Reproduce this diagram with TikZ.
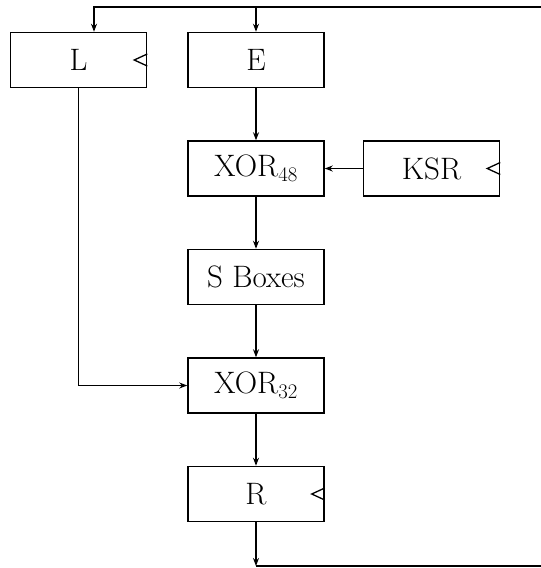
\documentclass[tikz,border=0pt]{standalone}
\usepackage{tikz}
\usetikzlibrary{positioning, calc}
\usetikzlibrary{arrows.meta}
\tikzstyle{box} =
[
	draw,rectangle,line width=1.5pt,inner sep=2mm,
	minimum width=136pt, minimum height=55pt,
	font=\fontsize{31}{36}\selectfont
]
% clock mark on the right side of a register
\newcommand{\clockmark}[1]{%
	\draw[-,line width=1.3pt] ($(#1.east)+(0,-6)$) -- ++(-13,6) -- ++(13,6);}

\begin{document}
\begin{tikzpicture}[->,>={Stealth[length=8pt,width=6pt]},x=1pt,y=-1pt,line width=1.5pt,node distance=52pt]
\useasboundingbox (0,0) rectangle (541,568);

\node[box] (E) at (256,60) {E};
\node[box] (L) [left=40pt of E] {L};
\node[box] (X48) [below=of E] {XOR$_{48}$};
\node[box] (KSR) [right=38pt of X48] {KSR};
\node[box] (S) [below=of X48] {S Boxes};
\node[box] (X32) [below=of S] {XOR$_{32}$};
\node[box] (R) [below=of X32] {R};

\clockmark{L}
\clockmark{KSR}
\clockmark{R}

\coordinate (topR) at (541,7);
\coordinate (topL) at (94,7);
\coordinate (topE) at (E.north |- topR);
\coordinate (botL) at (R.south |- 0,566);
\coordinate (botR) at (541,566);

\path
	(E) edge (X48)
	(KSR) edge (X48)
	(X48) edge (S)
	(S) edge (X32)
	(X32) edge (R);

\draw (L.south) |- (X32.west);
\draw (R.south) -- (botL);
\draw[-] (botL) -- (botR);
\draw (topR) -- (topL) -- (topL |- L.north);
\draw (topE) -- (E.north);

\end{tikzpicture}
\end{document}
